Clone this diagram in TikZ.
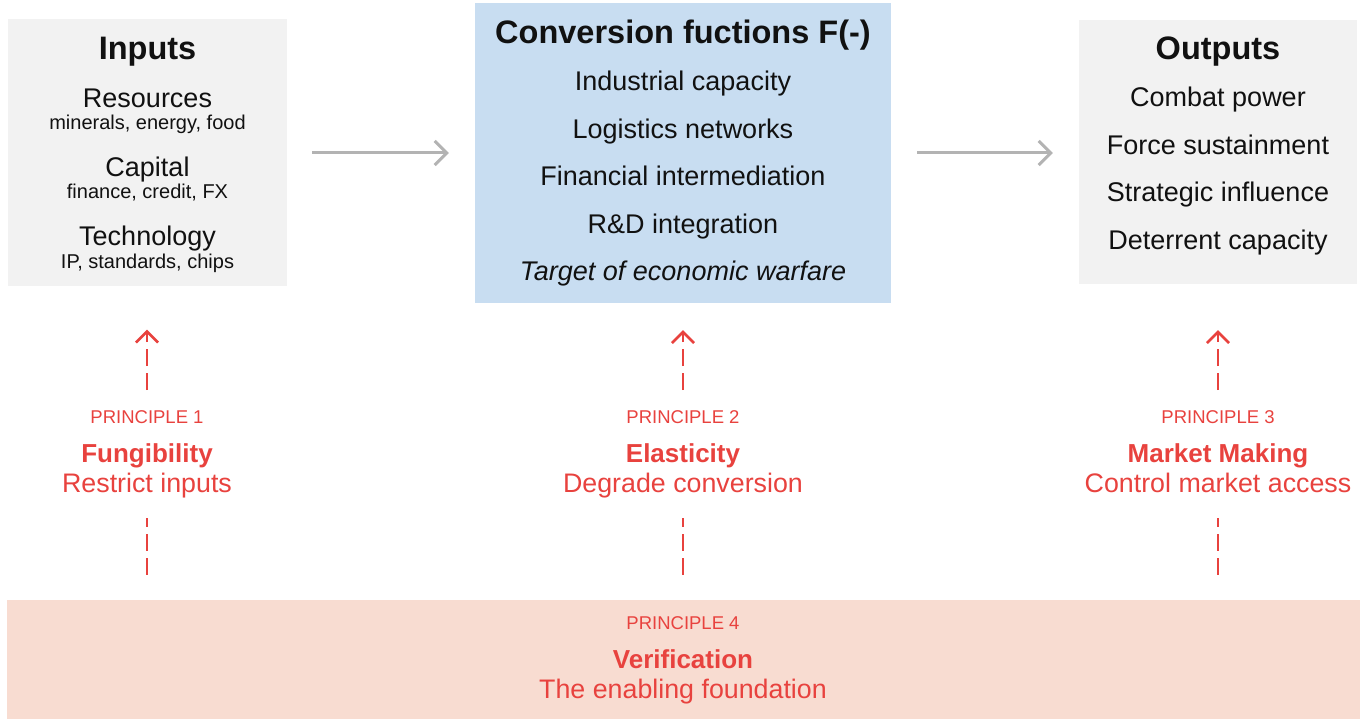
\documentclass[tikz,border=0pt]{standalone}
\usepackage{fontspec}
\setmainfont{Liberation Sans}
\usetikzlibrary{arrows.meta}
\definecolor{boxgray}{HTML}{F2F2F2}
\definecolor{boxblue}{HTML}{C8DDF1}
\definecolor{boxpink}{HTML}{F8DCD1}
\definecolor{redc}{HTML}{E8423E}
\definecolor{arrgray}{HTML}{B3B3B3}
\definecolor{textc}{HTML}{111111}
\newcommand\fsz[1]{\fontsize{#1}{#1}\selectfont}
\tikzset{
  title/.style={inner sep=0, text height=23.4pt, text depth=0pt, font=\fsz{32.5}\bfseries, text=textc},
  item/.style={inner sep=0, text height=19.4pt, text depth=0pt, font=\fsz{27}, text=textc},
  sub/.style={inner sep=0, text height=14.4pt, text depth=0pt, font=\fsz{20}, text=textc},
  plabel/.style={inner sep=0, text height=13.3pt, text depth=0pt, font=\fsz{18.5}, text=redc},
  pname/.style={inner sep=0, text height=18.7pt, text depth=0pt, font=\fsz{26}\bfseries, text=redc},
  pdesc/.style={inner sep=0, text height=19.3pt, text depth=0pt, font=\fsz{26.8}, text=redc},
  grayarrow/.style={draw=arrgray, line width=3pt, -{Straight Barb[length=12pt,width=24pt,line width=3pt]}},
  redarrow/.style={draw=redc, line width=2.6pt, dash pattern=on 17pt off 7pt, -{Straight Barb[length=11pt,width=22pt,line width=2.6pt]}},
  redline/.style={draw=redc, line width=2.6pt, dash pattern=on 17pt off 7pt},
}
\begin{document}
\begin{tikzpicture}[x=1pt,y=-1pt]
\useasboundingbox (0,0) rectangle (1360,719);
% panels
\node[fill=boxgray, inner sep=0, minimum width=279pt, minimum height=267pt] (inputs) at (147.5,153) {};
\node[fill=boxblue, inner sep=0, minimum width=416pt, minimum height=300pt] (conv) at (683,153) {};
\node[fill=boxgray, inner sep=0, minimum width=278pt, minimum height=264pt] (outputs) at (1218,152) {};
\node[fill=boxpink, inner sep=0, minimum width=1353pt, minimum height=119pt] (bottom) at (683.5,659.5) {};

% inputs text
\node[title] (tin) at (147.5,48) {Inputs};
\node[item] (res) at (147.5,98) {Resources};
\node[sub] (resd) at (147.5,122) {minerals, energy, food};
\node[item] (cap) at (147.5,167) {Capital};
\node[sub] (capd) at (147.5,191) {finance, credit, FX};
\node[item] (tech) at (147.5,236) {Technology};
\node[sub] (techd) at (147.5,261) {IP, standards, chips};

% conversion text
\node[title] (tconv) at (683,32) {Conversion fuctions F(-)};
\node[item] (c1) at (683,81) {Industrial capacity};
\node[item] (c2) at (683,129) {Logistics networks};
\node[item] (c3) at (683,176) {Financial intermediation};
\node[item] (c4) at (683,224) {R\&D integration};
\node[item, font=\fsz{27}\itshape] (c5) at (683,271) {Target of economic warfare};

% outputs text
\node[title] (tout) at (1218,48) {Outputs};
\node[item] (o1) at (1218,97) {Combat power};
\node[item] (o2) at (1218,145) {Force sustainment};
\node[item] (o3) at (1218,192) {Strategic influence};
\node[item] (o4) at (1218,240) {Deterrent capacity};

% principles
\node[plabel] (p1a) at (147,417) {PRINCIPLE 1};
\node[pname] (p1b) at (147,453) {Fungibility};
\node[pdesc] (p1c) at (147,483) {Restrict inputs};

\node[plabel] (p2a) at (683,417) {PRINCIPLE 2};
\node[pname] (p2b) at (683,453) {Elasticity};
\node[pdesc] (p2c) at (683,483) {Degrade conversion};

\node[plabel] (p3a) at (1218,417) {PRINCIPLE 3};
\node[pname] (p3b) at (1218,453) {Market Making};
\node[pdesc] (p3c) at (1218,483) {Control market access};

\node[plabel] (p4a) at (683,623) {PRINCIPLE 4};
\node[pname] (p4b) at (683,659) {Verification};
\node[pdesc] (p4c) at (683,689) {The enabling foundation};

% gray flow arrows
\draw[grayarrow, shorten <=25pt, shorten >=26pt] (inputs.east) -- (conv.west);
\draw[grayarrow, shorten <=26pt, shorten >=26pt] (conv.east) -- (conv.east -| outputs.west);

% red dashed arrows
\draw[redarrow, shorten <=20pt, shorten >=43pt] (p1a.north) -- (p1a.north |- inputs.south);
\draw[redarrow, shorten <=20pt, shorten >=27pt] (p2a.north) -- (conv.south);
\draw[redarrow, shorten <=20pt, shorten >=46pt] (p3a.north) -- (p3a.north |- outputs.south);
\draw[redline, shorten <=25pt, shorten >=25pt] (p1c.south |- bottom.north) -- (p1c.south);
\draw[redline, shorten <=25pt, shorten >=25pt] (p2c.south |- bottom.north) -- (p2c.south);
\draw[redline, shorten <=25pt, shorten >=25pt] (p3c.south |- bottom.north) -- (p3c.south);
\end{tikzpicture}
\end{document}
